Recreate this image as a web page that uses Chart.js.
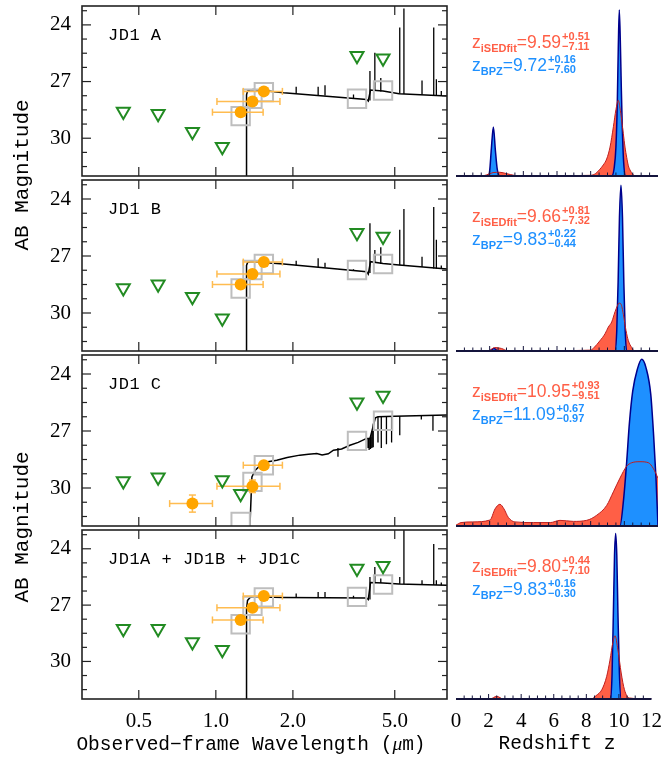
<!DOCTYPE html>
<html>
<head>
<meta charset="utf-8">
<script src="https://cdn.jsdelivr.net/npm/chart.js@4.4.1/dist/chart.umd.min.js"></script>
<style>
  html, body { margin: 0; padding: 0; background: #fff; }
  body { position: relative; width: 672px; height: 761px; overflow: hidden; }
  canvas { position: absolute; }
  .mono { position: absolute; font-family: "Liberation Mono", monospace; color: #000; white-space: nowrap; line-height: 1; }
  .ztxt { position: absolute; font-family: "Liberation Sans", Arial, sans-serif; font-size: 17.5px; line-height: 20px; white-space: nowrap; }
  .ztxt .sb { font-size: 11px; font-weight: bold; position: relative; top: 4px; }
  .ztxt .ud { display: inline-flex; flex-direction: column; font-size: 11px; font-weight: bold; line-height: 10px;
              vertical-align: middle; margin-left: 1px; position: relative; top: -2px; }
</style>
</head>
<body>
<script>
// ---------- SED panels (wavelength in micron, AB magnitude) ----------
const panelNames = ['JD1 A', 'JD1 B', 'JD1 C', 'JD1A + JD1B + JD1C'];

// upper limits (green triangles)
const limWave  = [0.435, 0.595, 0.81, 1.06, 3.56, 4.5];
const limWaveC = [0.435, 0.595, 1.06, 1.25, 3.56, 4.5];
const limMagA = [28.58, 28.70, 29.66, 30.45, 25.63, 25.76];
const limMagB = [28.69, 28.49, 29.15, 30.28, 25.77, 25.98];
const limMagC = [29.63, 29.44, 29.58, 30.30, 25.49, 25.13];
const limMagD = [28.26, 28.26, 28.96, 29.38, 25.05, 24.91];

// detections (orange circles) with filter widths
const detWave  = [1.25, 1.39, 1.54];
const detWaveC = [0.81, 1.39, 1.54];
const detLo  = [0.97, 1.01, 1.28];
const detHi  = [1.53, 1.78, 1.82];
const detLoC = [0.66, 1.01, 1.28];
const detHiC = [0.97, 1.78, 1.82];
const detMagA = [28.62, 28.05, 27.52];
const detMagB = [28.50, 27.95, 27.32];
const detMagC = [30.82, 29.91, 28.80];
const detMagD = [27.79, 27.14, 26.52];
const detErrC = [0.45, 0.33, 0];

// model photometry (grey squares)
const modWave = [1.25, 1.39, 1.54, 3.56, 4.5];
const modMagA = [28.83, 27.91, 27.56, 27.91, 27.47];
const modMagB = [28.71, 27.74, 27.42, 27.74, 27.42];
const modMagC = [31.79, 29.68, 28.80, 27.52, 26.46];
const modMagD = [28.02, 27.04, 26.59, 26.56, 25.90];

// best-fit spectra: continuum
const specWave = [1.318, 1.318, 1.33, 1.36, 1.40, 1.84, 3.88, 3.94, 4.02, 4.5, 5.2, 8.0];
const specMagA = [33, 27.7, 27.5, 27.44, 27.42, 27.59, 27.95, 28.03, 27.45, 27.5, 27.64, 27.77];
const specMagB = [33, 27.5, 27.35, 27.3, 27.3, 27.42, 27.83, 27.95, 27.3, 27.4, 27.48, 27.69];
const specMagD = [33, 27.2, 26.75, 26.6, 26.56, 26.6, 26.62, 26.7, 25.8, 25.82, 25.88, 25.94];
const specWaveC = [1.35, 1.383, 1.425, 1.47, 1.6, 1.73, 1.9, 2.13, 2.3, 2.48, 2.6, 2.75, 2.88, 3.1, 3.34, 3.6, 3.88, 4.0, 4.2, 4.3, 5.0, 8.0];
const specMagC  = [33, 29.42, 29.07, 28.89, 28.62, 28.54, 28.4, 28.27, 28.22, 28.18, 28.26, 28.2, 28.01, 27.95, 27.75, 27.6, 27.39, 27.4, 26.3, 26.25, 26.22, 26.16];

// emission lines (A, B, combined): wavelength, top and foot of each line
const lineWave = [2.06, 2.51, 2.67, 3.45, 4.0, 4.18, 4.41, 5.23, 5.43, 6.39, 7.10, 7.27, 7.6];
const lineTopA = [27.27, 27.27, 27.2, 27.68, 26.44, 25.47, 26.81, 24.14, 23.13, 26.94, 24.14, 26.88, 27.5];
const lineBotA = [27.65, 27.72, 27.74, 27.92, 28.0, 27.48, 27.52, 27.65, 27.66, 27.7, 27.76, 27.76, 27.77];
const lineTopB = [27.25, 27.12, 27.35, 27.7, 25.27, 26.68, 26.54, 25.62, 24.53, 27.04, 24.42, 26.15, 27.5];
const lineBotB = [27.5, 27.58, 27.6, 27.78, 27.9, 27.32, 27.42, 27.49, 27.5, 27.58, 27.66, 27.67, 27.68];
const lineTopD = [26.38, 26.3, 26.3, 26.5, 25.5, 24.97, 25.58, 25.5, 22.5, 25.68, 23.74, 25.68, 25.8];
const lineBotD = [26.6, 26.62, 26.62, 26.63, 26.7, 25.8, 25.82, 25.88, 25.88, 25.91, 25.93, 25.93, 25.94];
// absorption lines (JD1 C)
const absWaveC = [3.0, 3.93, 3.97, 4.02, 4.07, 4.12, 4.30, 4.43, 4.64, 4.86, 5.23, 6.35, 7.05];
const absTopC  = [27.9, 27.4, 27.4, 27.3, 27.0, 26.6, 26.25, 26.24, 26.23, 26.22, 26.21, 26.19, 26.18];
const absBotC  = [28.36, 27.9, 28.0, 27.95, 27.9, 27.85, 27.6, 27.9, 27.7, 27.6, 27.22, 26.4, 26.99];

const waveTicks = [0.5, 1, 2, 5];
const magTicks  = [23.25, 24, 24.75, 25.5, 26.25, 27, 27.75, 28.5, 29.25, 30, 30.75, 31.5];
const magLabels = [24, 27, 30];

// ---------- redshift probability distributions ----------
const zIsedA = [0, 1.5, 1.8, 2.2, 2.6, 3.0, 3.5, 4.0, 8.0, 8.3, 8.55, 8.75, 8.95, 9.15, 9.35, 9.5, 9.64, 9.74, 9.84, 9.94, 10.04, 10.14, 10.24, 10.34, 10.5, 10.7, 12];
const pIsedA = [0, 0, 0.006, 0.02, 0.022, 0.014, 0.003, 0, 0.004, 0.015, 0.04, 0.065, 0.1, 0.17, 0.29, 0.39, 0.445, 0.4, 0.33, 0.25, 0.17, 0.11, 0.06, 0.035, 0.01, 0, 0];
const zBpzA = [0, 1.9, 2.0, 2.1, 2.22, 2.34, 2.45, 2.6, 9.25, 9.4, 9.5, 9.58, 9.64, 9.70, 9.76, 9.82, 9.88, 9.96, 10.08, 12];
const pBpzA = [0, 0, 0.03, 0.16, 0.288, 0.15, 0.04, 0, 0, 0.05, 0.17, 0.42, 0.75, 0.976, 0.8, 0.52, 0.28, 0.08, 0, 0];

const zIsedB = [0, 1.9, 2.3, 2.7, 3.1, 8.0, 8.2, 8.55, 8.85, 9.05, 9.25, 9.45, 9.59, 9.69, 9.8, 9.94, 10.1, 10.24, 10.44, 10.6, 12];
const pIsedB = [0, 0, 0.02, 0.015, 0, 0.005, 0.02, 0.06, 0.1, 0.14, 0.17, 0.23, 0.265, 0.28, 0.275, 0.215, 0.12, 0.06, 0.02, 0, 0];
const zBpzB = [0, 2.0, 2.25, 2.5, 9.45, 9.55, 9.63, 9.71, 9.8, 9.89, 9.97, 10.05, 10.14, 12];
const pBpzB = [0, 0, 0.015, 0, 0, 0.12, 0.4, 0.78, 0.97, 0.78, 0.4, 0.12, 0, 0];

const zIsedC = [0, 0.3, 1.0, 2.02, 2.32, 2.61, 2.85, 3.11, 3.5, 4.6, 5.6, 6.18, 6.97, 7.76, 8.36, 8.95, 9.35, 9.74, 10.14, 10.44, 10.93, 11.43, 11.72, 12];
const pIsedC = [0.005, 0.02, 0.024, 0.035, 0.1, 0.127, 0.1, 0.05, 0.024, 0.02, 0.02, 0.033, 0.027, 0.033, 0.063, 0.12, 0.2, 0.28, 0.35, 0.37, 0.376, 0.37, 0.337, 0.28];
const zBpzC = [0, 9.74, 9.95, 10.14, 10.3, 10.5, 10.77, 11.03, 11.29, 11.57, 11.74, 11.88, 12];
const pBpzC = [0, 0, 0.15, 0.376, 0.6, 0.79, 0.916, 0.975, 0.925, 0.77, 0.53, 0.28, 0];

const zIsedD = [0, 2.1, 2.5, 2.9, 8.3, 8.6, 8.95, 9.25, 9.45, 9.64, 9.76, 9.94, 10.14, 10.34, 10.64, 12];
const pIsedD = [0, 0, 0.016, 0, 0, 0.02, 0.055, 0.134, 0.23, 0.34, 0.374, 0.29, 0.154, 0.055, 0.006, 0];
const zBpzD = [0, 9.5, 9.58, 9.66, 9.73, 9.8, 9.87, 9.94, 10.03, 10.14, 12];
const pBpzD = [0, 0, 0.15, 0.51, 0.85, 0.98, 0.85, 0.51, 0.15, 0, 0];

const zTicks = [0, 0.5, 1, 1.5, 2, 2.5, 3, 3.5, 4, 4.5, 5, 5.5, 6, 6.5, 7, 7.5, 8, 8.5, 9, 9.5, 10, 10.5, 11, 11.5, 12];
const zLabels = [0, 2, 4, 6, 8, 10, 12];

const isedBest = ['9.59', '9.66', '10.95', '9.80'];
const isedUp   = ['+0.51', '+0.81', '+0.93', '+0.44'];
const isedDn   = ['\u22127.11', '\u22127.32', '\u22129.51', '\u22127.10'];
const bpzBest  = ['9.72', '9.83', '11.09', '9.83'];
const bpzUp    = ['+0.16', '+0.22', '+0.67', '+0.16'];
const bpzDn    = ['\u22127.60', '\u22120.44', '\u22120.97', '\u22120.30'];

// ---------- layout ----------
const T = [6, 180, 355, 530];
const B = [176, 351, 526, 699];
const PAD = 30, AXIS_H = 60;

const green = 'rgb(34,139,34)';
const orange = 'rgb(255,165,0)';
const errOrange = 'rgb(255,188,80)';
const grey = 'rgb(190,190,190)';
const redFill = 'rgb(255,95,70)';
const redLine = 'rgb(190,30,30)';
const blue = 'rgb(30,144,255)';
const navy = 'rgb(0,0,140)';

const frameCfg = new Map();

const framePlugin = {
  id: 'frame',
  afterDraw(chart) {
    const o = frameCfg.get(chart.canvas);
    if (!o) return;
    const { ctx, chartArea: a } = chart;
    const sx = chart.scales.x, sy = chart.scales.y;
    const seg = (x0, y0, x1, y1) => { ctx.beginPath(); ctx.moveTo(x0, y0); ctx.lineTo(x1, y1); ctx.stroke(); };
    ctx.save();
    ctx.strokeStyle = o.color;
    ctx.lineWidth = o.width;
    if (o.box) ctx.strokeRect(a.left, a.top, a.right - a.left, a.bottom - a.top);
    else seg(a.left, a.bottom, a.right, a.bottom);
    ctx.lineWidth = o.tickWidth;
    sx.ticks.forEach(t => {
      const px = sx.getPixelForValue(t.value);
      if (px < a.left + 1 || px > a.right - 1) return;
      const len = o.majorX.includes(t.value) ? o.major : o.minor;
      seg(px, a.bottom, px, a.bottom - len);
      if (o.box) seg(px, a.top, px, a.top + len);
    });
    if (o.box) {
      sy.ticks.forEach(t => {
        const py = sy.getPixelForValue(t.value);
        const len = o.majorY.includes(t.value) ? o.major : o.minor;
        seg(a.left, py, a.left + len, py);
        seg(a.right, py, a.right - len, py);
      });
    }
    ctx.restore();
  }
};

const errPlugin = {
  id: 'errbars',
  beforeDatasetDraw(chart, args) {
    const ds = chart.data.datasets[args.index];
    if (!ds.errBars) return;
    const { ctx, chartArea: a } = chart;
    const sx = chart.scales.x, sy = chart.scales.y;
    const seg = (x0, y0, x1, y1) => { ctx.beginPath(); ctx.moveTo(x0, y0); ctx.lineTo(x1, y1); ctx.stroke(); };
    ctx.save();
    ctx.beginPath();
    ctx.rect(a.left, a.top, a.right - a.left, a.bottom - a.top);
    ctx.clip();
    ctx.strokeStyle = errOrange;
    ctx.lineWidth = 1.5;
    ds.data.forEach(d => {
      const py = sy.getPixelForValue(d.y);
      const x0 = sx.getPixelForValue(d.xLo), x1 = sx.getPixelForValue(d.xHi);
      seg(x0, py, x1, py);
      seg(x0, py - 3.5, x0, py + 3.5);
      seg(x1, py - 3.5, x1, py + 3.5);
      if (d.yErr > 0) {
        const px = sx.getPixelForValue(d.x);
        const y0 = sy.getPixelForValue(d.y - d.yErr), y1 = sy.getPixelForValue(d.y + d.yErr);
        seg(px, y0, px, y1);
        seg(px - 3.5, y0, px + 3.5, y0);
        seg(px - 3.5, y1, px + 3.5, y1);
      }
    });
    ctx.restore();
  }
};
Chart.register(framePlugin, errPlugin);

function addCanvas(left, top, w, h) {
  const c = document.createElement('canvas');
  c.width = w; c.height = h;
  c.style.left = left + 'px'; c.style.top = top + 'px';
  c.style.width = w + 'px'; c.style.height = h + 'px';
  document.body.appendChild(c);
  return c;
}

function addDiv(cls, html, left, top, extra) {
  const d = document.createElement('div');
  d.className = cls;
  d.innerHTML = html;
  d.style.left = left + 'px';
  d.style.top = top + 'px';
  Object.assign(d.style, extra || {});
  document.body.appendChild(d);
  return d;
}

const pts = (xs, ys) => xs.map((x, k) => ({ x: x, y: ys[k] }));
const segs = (xs, a, b) => xs.flatMap((x, k) => [{ x: x, y: a[k] }, { x: x, y: b[k] }, { x: x, y: null }]);

const tickFont = { family: 'Liberation Serif', size: 21 };

function sedChart(i, lim, det, mod, spec, lines) {
  const bottom = i === 3;
  const h = B[i] - T[i];
  const c = addCanvas(0, T[i] - PAD, 452, PAD + h + (bottom ? AXIS_H : PAD));
  frameCfg.set(c, { box: true, color: '#222', width: 1.6, tickWidth: 1.2, major: 9, minor: 5,
                    majorX: waveTicks, majorY: magLabels });
  new Chart(c, {
    type: 'scatter',
    data: {
      datasets: [
        { data: lim, pointStyle: 'triangle', pointRotation: 180, pointRadius: 7.5, pointBorderWidth: 2,
          pointBorderColor: green, borderColor: green, pointBackgroundColor: 'rgba(0,0,0,0)', backgroundColor: 'rgba(0,0,0,0)', order: 0 },
        { data: det, pointStyle: 'circle', pointRadius: 6, pointBorderWidth: 0, pointBackgroundColor: orange,
          backgroundColor: orange, borderColor: orange, errBars: true, order: 1 },
        { data: mod, pointStyle: 'rect', pointRadius: 13, pointBorderWidth: 2, pointBorderColor: grey, borderColor: grey,
          pointBackgroundColor: 'rgba(0,0,0,0)', backgroundColor: 'rgba(0,0,0,0)', order: 2 },
        { data: lines, showLine: true, pointRadius: 0, borderColor: '#000', borderWidth: 1.3, spanGaps: false, order: 3 },
        { data: spec, showLine: true, pointRadius: 0, borderColor: '#000', borderWidth: 1.5, order: 4 }
      ]
    },
    options: {
      responsive: false, animation: false, events: [], devicePixelRatio: 1,
      layout: { autoPadding: false, padding: { left: 0, right: 5, top: PAD, bottom: bottom ? 0 : PAD } },
      plugins: { legend: { display: false }, tooltip: { enabled: false } },
      scales: {
        x: {
          type: 'logarithmic', min: 0.3, max: 8,
          grid: { display: false, drawTicks: false }, border: { display: false },
          afterBuildTicks: s => { s.ticks = waveTicks.map(v => ({ value: v })); },
          afterFit: s => { s.height = bottom ? AXIS_H : 0; },
          ticks: { display: bottom, autoSkip: false, maxRotation: 0, padding: 10, color: '#000', font: tickFont,
                   callback: v => Number(v).toFixed(1) }
        },
        y: {
          type: 'linear', reverse: true, min: 23, max: 32,
          grid: { display: false, drawTicks: false }, border: { display: false },
          afterBuildTicks: s => { s.ticks = magTicks.map(v => ({ value: v })); },
          afterFit: s => { s.width = 82; },
          ticks: { autoSkip: false, padding: 11, color: '#000', font: tickFont,
                   callback: v => magLabels.includes(v) ? String(v) : '' }
        }
      }
    }
  });
}

function pzChart(i, zI, pI, zB, pB) {
  const bottom = i === 3;
  const h = B[i] - T[i];
  const c = addCanvas(440, T[i] - PAD, 232, PAD + h + (bottom ? AXIS_H : PAD));
  frameCfg.set(c, { box: false, color: 'rgb(20,20,60)', width: 2, tickWidth: 1, major: 5, minor: 3.5,
                    majorX: zLabels, majorY: [] });
  const smooth = { showLine: true, pointRadius: 0, cubicInterpolationMode: 'monotone' };
  new Chart(c, {
    type: 'scatter',
    data: {
      datasets: [
        Object.assign({ data: pts(zI, pI), borderColor: redLine, borderWidth: 1, fill: false, order: 0 }, smooth),
        Object.assign({ data: pts(zB, pB), borderColor: navy, borderWidth: 1.5, backgroundColor: blue, fill: 'origin', order: 1 }, smooth),
        Object.assign({ data: pts(zI, pI), borderColor: 'rgba(0,0,0,0)', borderWidth: 1, backgroundColor: redFill, fill: 'origin', order: 2 }, smooth)
      ]
    },
    options: {
      responsive: false, animation: false, events: [], devicePixelRatio: 1,
      layout: { autoPadding: false, padding: { left: 16, right: 14, top: PAD, bottom: bottom ? 0 : PAD } },
      plugins: { legend: { display: false }, tooltip: { enabled: false } },
      scales: {
        x: {
          type: 'linear', min: 0, max: 12,
          grid: { display: false, drawTicks: false }, border: { display: false },
          afterBuildTicks: s => { s.ticks = zTicks.map(v => ({ value: v })); },
          afterFit: s => { s.height = bottom ? AXIS_H : 0; },
          ticks: { display: bottom, autoSkip: false, maxRotation: 0, padding: 10, color: '#000', font: tickFont,
                   callback: v => zLabels.includes(v) ? String(v) : '' }
        },
        y: { display: false, min: 0, max: 1 }
      }
    }
  });
}

const detPts = (w, m, lo, hi, err) => w.map((x, k) => ({ x: x, y: m[k], xLo: lo[k], xHi: hi[k], yErr: err ? err[k] : 0 }));

sedChart(0, pts(limWave, limMagA), detPts(detWave, detMagA, detLo, detHi), pts(modWave, modMagA),
         pts(specWave, specMagA), segs(lineWave, lineBotA, lineTopA));
sedChart(1, pts(limWave, limMagB), detPts(detWave, detMagB, detLo, detHi), pts(modWave, modMagB),
         pts(specWave, specMagB), segs(lineWave, lineBotB, lineTopB));
sedChart(2, pts(limWaveC, limMagC), detPts(detWaveC, detMagC, detLoC, detHiC, detErrC), pts(modWave, modMagC),
         pts(specWaveC, specMagC), segs(absWaveC, absTopC, absBotC));
sedChart(3, pts(limWave, limMagD), detPts(detWave, detMagD, detLo, detHi), pts(modWave, modMagD),
         pts(specWave, specMagD), segs(lineWave, lineBotD, lineTopD));

pzChart(0, zIsedA, pIsedA, zBpzA, pBpzA);
pzChart(1, zIsedB, pIsedB, zBpzB, pBpzB);
pzChart(2, zIsedC, pIsedC, zBpzC, pBpzC);
pzChart(3, zIsedD, pIsedD, zBpzD, pBpzD);

// ---------- texts ----------
panelNames.forEach((n, i) => {
  addDiv('mono', n, 108, T[i] + 21, { fontSize: '17px', letterSpacing: '0.5px' });
  addDiv('ztxt', 'z<span class="sb">iSEDfit</span>=' + isedBest[i] +
         '<span class="ud"><span>' + isedUp[i] + '</span><span>' + isedDn[i] + '</span></span>',
         472, T[i] + 26, { color: redFill });
  addDiv('ztxt', 'z<span class="sb">BPZ</span>=' + bpzBest[i] +
         '<span class="ud"><span>' + bpzUp[i] + '</span><span>' + bpzDn[i] + '</span></span>',
         472, T[i] + 49, { color: blue });
});

const rot = { fontSize: '21px', transform: 'translate(-50%,-50%) rotate(-90deg)' };
addDiv('mono', 'AB Magnitude', 22, 175, rot);
addDiv('mono', 'AB Magnitude', 22, 527, rot);
addDiv('mono', 'Observed\u2212frame Wavelength (<i style="font-family:\'Liberation Serif\'">\u03bc</i>m)', 251, 745,
       { fontSize: '19.5px', transform: 'translate(-50%,-50%)' });
addDiv('mono', 'Redshift z', 557, 745, { fontSize: '19.5px', transform: 'translate(-50%,-50%)' });
</script>
</body>
</html>
